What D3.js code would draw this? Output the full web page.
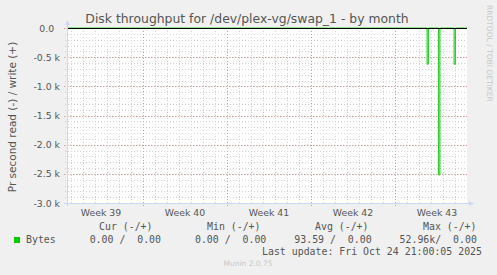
<!DOCTYPE html>
<html lang="en">
<head>
<meta charset="utf-8">
<title>Disk throughput for /dev/plex-vg/swap_1 - by month</title>
<style>
  body { margin: 0; background: #f0f0f0; }
  svg text { font-family: "DejaVu Sans", sans-serif; fill: #555; }
  svg text.mono { font-family: "DejaVu Sans Mono", monospace; white-space: pre; font-size: 9.9px; }
</style>
</head>
<body>
<div id="chart"></div>
<script src="https://cdn.jsdelivr.net/npm/d3@7/dist/d3.min.js"></script>
<script>
// ---- data ----
var titleText = "Disk throughput for /dev/plex-vg/swap_1 - by month";
var yLabelText = "Pr second read (-) / write (+)";
var sideText = "RRDTOOL / TOBI OETIKER";
var footerText = "Munin 2.0.75";
var lastUpdate = "Last update: Fri Oct 24 21:00:05 2025";

var timeStart = "2025-09-21T16:00:00Z";
var timeEnd = "2025-10-25T00:00:00Z";
var yMin = -3000, yMax = 0;

// read spikes (bytes/s), drawn below zero
var spikeTimes = ["2025-10-21T16:00:00Z", "2025-10-22T15:00:00Z", "2025-10-23T22:00:00Z"];
var spikeRead = [620, 2520, 620];
var spikeHours = 3;

var seriesName = "Bytes";
var legendHeaders = ["Cur (-/+)", "Min (-/+)", "Avg (-/+)", "Max (-/+)"];
var legendRead = [0, 0, 93.59, 52960];
var legendWrite = [0, 0, 0, 0];

// ---- layout ----
var width = 497, height = 275;
var pL = 67, pR = 467, pT = 28, pB = 203;

var svg = d3.select("#chart").append("svg")
  .attr("width", width).attr("height", height);

svg.append("rect").attr("width", width).attr("height", height).attr("fill", "#f0f0f0");

var x = d3.scaleUtc()
  .domain([new Date(timeStart), new Date(timeEnd)])
  .range([pL, pR]);
var y = d3.scaleLinear().domain([yMin, yMax]).range([pB, pT]);

// canvas
svg.append("rect")
  .attr("x", pL).attr("y", pT)
  .attr("width", pR - pL).attr("height", pB - pT)
  .attr("fill", "#fff");

var grid = svg.append("g").attr("shape-rendering", "crispEdges");

// minor grid
grid.selectAll(".vmin").data(d3.utcDay.range(x.domain()[0], x.domain()[1]))
  .enter().append("line")
  .attr("x1", function(d){ return Math.round(x(d)) + 0.5; })
  .attr("x2", function(d){ return Math.round(x(d)) + 0.5; })
  .attr("y1", pT).attr("y2", pB + 2)
  .attr("stroke", "#d4d4d4").attr("stroke-dasharray", "1,2");

grid.selectAll(".hmin").data(y.ticks(30))
  .enter().append("line")
  .attr("x1", pL - 2).attr("x2", pR)
  .attr("y1", function(d){ return Math.round(y(d)) + 0.5; })
  .attr("y2", function(d){ return Math.round(y(d)) + 0.5; })
  .attr("stroke", "#d4d4d4").attr("stroke-dasharray", "1,2");

// major grid
grid.selectAll(".vmaj").data(d3.utcSunday.range(x.domain()[0], x.domain()[1]))
  .enter().append("line")
  .attr("x1", function(d){ return Math.round(x(d)) + 0.5; })
  .attr("x2", function(d){ return Math.round(x(d)) + 0.5; })
  .attr("y1", pT).attr("y2", pB + 3)
  .attr("stroke", "#e89a9a").attr("stroke-dasharray", "1,2");

grid.selectAll(".hmaj").data(y.ticks(6))
  .enter().append("line")
  .attr("x1", pL - 3).attr("x2", pR)
  .attr("y1", function(d){ return Math.round(y(d)) + 0.5; })
  .attr("y2", function(d){ return Math.round(y(d)) + 0.5; })
  .attr("stroke", "#e89a9a").attr("stroke-dasharray", "1,2");

// y tick labels
function yFmt(v) {
  if (v === 0) return "0.0  ";
  return (v / 1000).toFixed(1) + " k";
}
svg.selectAll(".ylab").data(y.ticks(6))
  .enter().append("text")
  .attr("x", 60)
  .attr("y", function(d){ return y(d) + 3.5; })
  .attr("text-anchor", "end")
  .style("white-space", "pre")
  .attr("font-size", "9.33px")
  .text(yFmt);

// week labels, centred on each week
var weekFmt = d3.utcFormat("Week %V");
var weekMids = d3.utcSunday.range(d3.utcSunday.floor(x.domain()[0]), x.domain()[1])
  .map(function(d){ return d3.utcHour.offset(d, 84); })
  .filter(function(d){ return d >= x.domain()[0] && d <= x.domain()[1]; });
svg.selectAll(".xlab").data(weekMids)
  .enter().append("text")
  .attr("x", function(d){ return x(d); })
  .attr("y", 216)
  .attr("text-anchor", "middle")
  .attr("font-size", "9.33px")
  .text(weekFmt);

// series: read is drawn negative, built from the spike list
var readPts = [[x.domain()[0], 0]];
spikeTimes.forEach(function(t, i) {
  var t0 = new Date(t), t1 = d3.utcHour.offset(t0, spikeHours);
  readPts.push([t0, 0], [t0, -spikeRead[i]], [t1, -spikeRead[i]], [t1, 0]);
});
readPts.push([x.domain()[1], 0]);

var line = d3.line()
  .x(function(d){ return x(d[0]); })
  .y(function(d){ return y(d[1]); });

// faint fill between the two edges of each spike
svg.append("path")
  .datum(readPts)
  .attr("d", line)
  .attr("fill", "#9be89b")
  .attr("stroke", "none");

svg.append("path")
  .datum(readPts)
  .attr("d", line)
  .attr("fill", "none")
  .attr("stroke", "#00cc00")
  .attr("stroke-width", 0.8);

// zero rule
svg.append("line")
  .attr("x1", pL).attr("x2", pR)
  .attr("y1", y(0) + 0.5).attr("y2", y(0) + 0.5)
  .attr("stroke", "#000").attr("stroke-width", 1);

// axes with arrows
var axisCol = "#cfd6f8";
svg.append("line")
  .attr("x1", pL + 0.5).attr("x2", pL + 0.5)
  .attr("y1", pB + 3).attr("y2", pT - 4)
  .attr("stroke", axisCol);
svg.append("path")
  .attr("d", "M" + (pL - 2) + "," + (pT - 3) + "L" + (pL + 3) + "," + (pT - 3) + "L" + (pL + 0.5) + "," + (pT - 8) + "Z")
  .attr("fill", axisCol);
svg.append("line")
  .attr("x1", pL - 3).attr("x2", pR + 3)
  .attr("y1", pB + 0.5).attr("y2", pB + 0.5)
  .attr("stroke", axisCol);
svg.append("path")
  .attr("d", "M" + (pR + 2) + "," + (pB - 2) + "L" + (pR + 2) + "," + (pB + 3) + "L" + (pR + 7) + "," + (pB + 0.5) + "Z")
  .attr("fill", axisCol);

// title
svg.append("text")
  .attr("x", 247).attr("y", 23)
  .attr("text-anchor", "middle")
  .attr("font-size", "12.4px")
  .text(titleText);

// y axis label
svg.append("text")
  .attr("transform", "translate(16,117) rotate(-90)")
  .attr("text-anchor", "middle")
  .attr("font-size", "10.5px")
  .text(yLabelText);

// side credit
svg.append("text")
  .attr("transform", "translate(487,5) rotate(90)")
  .attr("font-size", "7.5px")
  .style("fill", "#c8c8c8")
  .text(sideText);

// legend
svg.append("rect")
  .attr("x", 14).attr("y", 237).attr("width", 6).attr("height", 6)
  .attr("fill", "#00cc00");
svg.append("text").attr("class", "mono")
  .attr("x", 26).attr("y", 243)
  .text(seriesName);

svg.selectAll(".lhead").data(legendHeaders)
  .enter().append("text").attr("class", "mono")
  .attr("x", function(d, i){ return 99 + 108 * i; })
  .attr("y", 230)
  .text(function(d){ return d; });

function rFmt(v) {
  return v >= 1000 ? (v / 1000).toFixed(2) + "k" : v.toFixed(2) + " ";
}
svg.selectAll(".lval").data(legendRead)
  .enter().append("text").attr("class", "mono")
  .attr("x", function(d, i){ return 161 + 105.3 * i; })
  .attr("y", 243)
  .attr("text-anchor", "end")
  .text(function(d, i){ return rFmt(d) + "/ " + legendWrite[i].toFixed(2).padStart(5, " "); });

svg.append("text").attr("class", "mono")
  .attr("x", 482).attr("y", 255)
  .attr("text-anchor", "end")
  .text(lastUpdate);

svg.append("text")
  .attr("x", 248).attr("y", 266)
  .attr("text-anchor", "middle")
  .attr("font-size", "7.5px")
  .style("fill", "#c8c8c8")
  .text(footerText);
</script>
</body>
</html>
